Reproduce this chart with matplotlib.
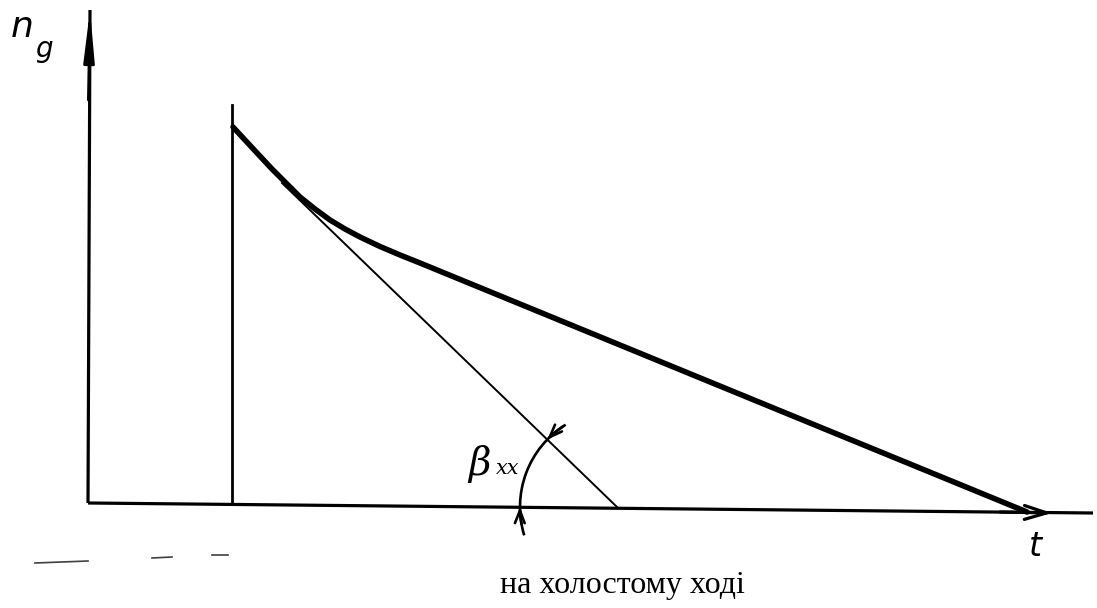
import numpy as np
import matplotlib
matplotlib.use("Agg")
import matplotlib.pyplot as plt
from matplotlib.patches import FancyArrowPatch, Arc

# ---- data (sketch coordinates: x to the right, y downward, as on the page) ----
curve_t = [233, 245, 258, 272, 287, 300, 315, 330, 345, 360, 380, 400, 420, 1027]
curve_n = [127, 140, 154, 169, 184, 197, 209, 220, 229, 237, 246.5, 255, 263, 512]

tangent_t = [282, 617]
tangent_n = [183, 507]

x_axis_t = [88, 1093]
x_axis_n = [503, 513]
y_axis_t = [88, 90]
y_axis_n = [503, 10]

start_t = [232, 232]
start_n = [105, 503]

arc_center = (617, 507)
arc_radius = 97
arc_angles = (122, 197)      # degrees, measured on the page (y up)

labels = {"n": "n", "sub": "g", "t": "t", "beta": "β", "beta_sub": "хх",
          "caption": "на холостому ході"}

artifact_t = [[35, 88], [152, 172], [212, 228]]
artifact_n = [[563, 561], [558, 557], [555, 555]]

# ---- figure ----
fig = plt.figure(figsize=(10.97, 6.08), dpi=100)
ax = fig.add_axes([0, 0, 1, 1])
ax.set_xlim(0, 1097)
ax.set_ylim(608, 0)
ax.axis("off")

k = "black"
# axes
ax.plot(x_axis_t, x_axis_n, color=k, lw=2.3, solid_capstyle="butt")
ax.plot(y_axis_t, y_axis_n, color=k, lw=2.3, solid_capstyle="butt")
ax.add_patch(FancyArrowPatch((y_axis_t[0] + 0.4, 100), (y_axis_t[1], y_axis_n[1]),
             arrowstyle="-|>,head_length=30,head_width=3.2", mutation_scale=1,
             color=k, lw=2.0, shrinkA=0, shrinkB=0))
ax.add_patch(FancyArrowPatch((1000, 512), (1052, 513),
             arrowstyle="->,head_length=16,head_width=5", mutation_scale=1,
             color=k, lw=2.3, shrinkA=0, shrinkB=0))

# vertical start line
ax.plot(start_t, start_n, color=k, lw=2.0)
# main curve
ax.plot(curve_t, curve_n, color=k, lw=4.0, solid_capstyle="round", solid_joinstyle="round")
# tangent
ax.plot(tangent_t, tangent_n, color=k, lw=1.4)

# angle arc (page y is inverted, so flip angles)
a0, a1 = arc_angles
ax.add_patch(Arc(arc_center, 2 * arc_radius, 2 * arc_radius, theta1=-a1, theta2=-a0,
                 color=k, lw=1.9))
def arc_pt(deg):
    r = np.deg2rad(deg)
    return (arc_center[0] + arc_radius * np.cos(r), arc_center[1] - arc_radius * np.sin(r))

ax.add_patch(FancyArrowPatch(arc_pt(190), arc_pt(180),
             arrowstyle="->,head_length=9,head_width=3.5", mutation_scale=1,
             connectionstyle="arc3,rad=-0.05", color=k, lw=1.9, shrinkA=0, shrinkB=0))
ax.add_patch(FancyArrowPatch(arc_pt(124), arc_pt(136),
             arrowstyle="->,head_length=9,head_width=3.5", mutation_scale=1,
             connectionstyle="arc3,rad=0.05", color=k, lw=1.9, shrinkA=0, shrinkB=0))

# texts
hand = dict(family="DejaVu Sans", style="oblique", color=k)
ax.text(11, 37, labels["n"], fontsize=26, ha="left", va="baseline", **hand)
ax.text(35, 57, labels["sub"], fontsize=20, ha="left", va="baseline", **hand)
ax.text(1029, 556, labels["t"], fontsize=24, ha="left", va="baseline", **hand)
ax.text(468, 475, labels["beta"], fontsize=28, ha="left", va="baseline",
        family="DejaVu Serif", style="italic", color=k)
ax.text(496, 474, labels["beta_sub"], fontsize=15, ha="left", va="baseline",
        family="DejaVu Serif", style="italic", color=k)
ax.text(622, 593, labels["caption"], fontsize=23, ha="center", va="baseline",
        family="Liberation Serif", color=k)

# scan specks
for tt, nn in zip(artifact_t, artifact_n):
    ax.plot(tt, nn, color="0.25", lw=1.2)

fig.savefig("out.png", dpi=100)
